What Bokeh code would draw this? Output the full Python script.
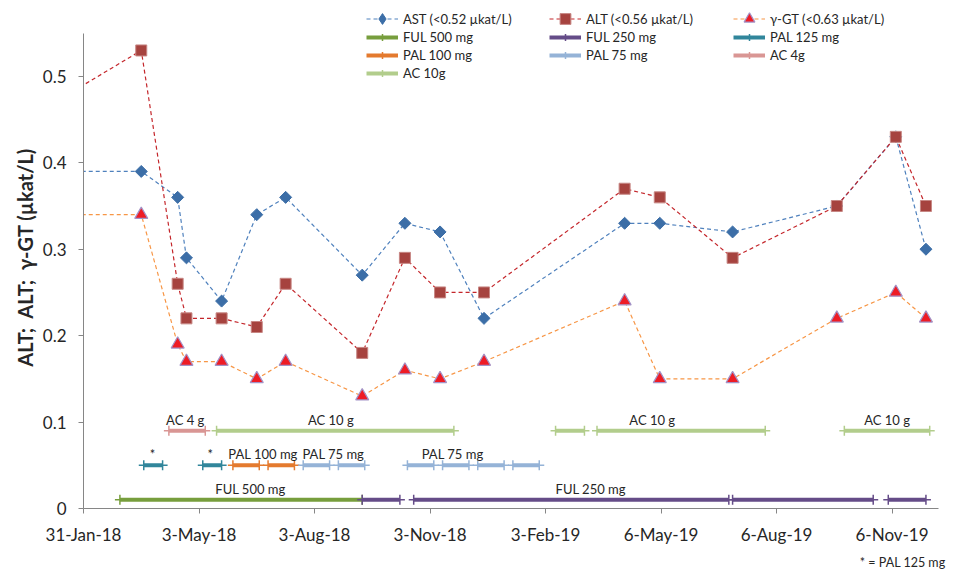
import pandas as pd
import numpy as np
from bokeh.plotting import figure
from bokeh.models import (FixedTicker, CustomJSTickFormatter, Legend, LegendItem,
                          Title, ColumnDataSource, Range1d)
from bokeh.core.properties import value
from bokeh.embed import file_html
from bokeh.resources import INLINE

# ---- liver enzyme measurements (µkat/L) ----
dates = ["2017-12-16", "2018-03-18", "2018-04-16", "2018-04-23", "2018-05-21",
         "2018-06-18", "2018-07-11", "2018-09-10", "2018-10-14", "2018-11-11",
         "2018-12-16", "2019-04-07", "2019-05-05", "2019-07-02", "2019-09-23",
         "2019-11-09", "2019-12-03"]
ast = [0.39, 0.39, 0.36, 0.29, 0.24, 0.34, 0.36, 0.27, 0.33, 0.32, 0.22,
       0.33, 0.33, 0.32, 0.35, 0.43, 0.30]
alt = [0.45, 0.53, 0.26, 0.22, 0.22, 0.21, 0.26, 0.18, 0.29, 0.25, 0.25,
       0.37, 0.36, 0.29, 0.35, 0.43, 0.35]
ggt = [0.34, 0.34, 0.19, 0.17, 0.17, 0.15, 0.17, 0.13, 0.16, 0.15, 0.17,
       0.24, 0.15, 0.15, 0.22, 0.25, 0.22]

# ---- treatment periods (start, end) ----
ful500 = [("2018-03-01", "2018-09-10")]
ful250 = [("2018-09-10", "2018-10-10"), ("2018-10-21", "2019-06-29"),
          ("2019-07-02", "2019-10-22"), ("2019-11-03", "2019-12-03")]
pal125 = [("2018-03-20", "2018-04-04"), ("2018-05-06", "2018-05-21")]
pal100 = [("2018-05-30", "2018-06-20"), ("2018-06-27", "2018-07-18")]
pal75 = [("2018-07-25", "2018-08-15"), ("2018-08-22", "2018-09-12"),
         ("2018-10-16", "2018-11-06"), ("2018-11-13", "2018-12-04"),
         ("2018-12-11", "2019-01-01"), ("2019-01-08", "2019-01-29")]
ac4 = [("2018-04-09", "2018-05-08")]
ac10 = [("2018-05-17", "2018-11-22"), ("2019-02-11", "2019-03-06"),
        ("2019-03-16", "2019-07-28"), ("2019-09-29", "2019-12-06")]

# text boxes above the treatment rows
ac_notes = [("AC 4 g", "2018-04-22"), ("AC 10 g", "2018-08-16"),
            ("AC 10 g", "2019-04-29"), ("AC 10 g", "2019-11-02")]
pal_notes = [("*", "2018-03-27"), ("*", "2018-05-12"), ("PAL 100 mg", "2018-06-23"),
             ("PAL 75 mg", "2018-08-18"), ("PAL 75 mg", "2018-11-21")]
ful_notes = [("FUL 500 mg", "2018-06-13"), ("FUL 250 mg", "2019-03-11")]

# row levels of the treatment bars on the value axis
AC_ROW, PAL_ROW, FUL_ROW = 0.09, 0.05, 0.01

# axis ticks
x_tick_dates = ["2018-01-31", "2018-05-03", "2018-08-03", "2018-11-03",
                "2019-02-03", "2019-05-06", "2019-08-06", "2019-11-06"]
x_tick_labels = ["31-Jan-18", "3-May-18", "3-Aug-18", "3-Nov-18",
                 "3-Feb-19", "6-May-19", "6-Aug-19", "6-Nov-19"]
y_ticks = [0, 0.1, 0.2, 0.3, 0.4, 0.5]
y_tick_labels = ["0", "0.1", "0.2", "0.3", "0.4", "0.5"]

FONT = "Lato"
TEXT = "#262626"
AXIS = "#868686"

x_start, x_end = pd.Timestamp("2018-01-31"), pd.Timestamp("2019-12-13")

p = figure(width=977, height=576, x_axis_type="datetime",
           x_range=Range1d(x_start, x_end), y_range=Range1d(0, 0.582),
           output_backend="svg", toolbar_location=None,
           min_border_left=83, min_border_right=39,
           min_border_top=5, min_border_bottom=68)
p.outline_line_color = None
p.xgrid.visible = False
p.ygrid.visible = False
p.background_fill_color = "white"
p.border_fill_color = "white"

# ---- axes ----
x_ms = [int(pd.Timestamp(d).value // 10**6) for d in x_tick_dates]
p.xaxis.ticker = FixedTicker(ticks=x_ms)
pick_label_js = """
let best = 0;
for (let i = 1; i < tick_vals.length; i++) {
  if (Math.abs(tick_vals[i] - tick) < Math.abs(tick_vals[best] - tick)) best = i;
}
return tick_text[best];
"""
p.xaxis.formatter = CustomJSTickFormatter(args=dict(tick_vals=x_ms, tick_text=x_tick_labels),
                                          code=pick_label_js)
p.yaxis.ticker = FixedTicker(ticks=y_ticks)
p.yaxis.formatter = CustomJSTickFormatter(args=dict(tick_vals=y_ticks, tick_text=y_tick_labels),
                                          code=pick_label_js)
p.yaxis.bounds = (0, 0.55)

for ax in (p.xaxis[0], p.yaxis[0]):
    ax.axis_line_color = AXIS
    ax.major_tick_line_color = AXIS
    ax.major_tick_out = 5
    ax.major_tick_in = 0
    ax.minor_tick_line_color = None
    ax.major_label_text_font = FONT
    ax.major_label_text_font_size = "17px"
    ax.major_label_text_color = TEXT
    ax.major_label_standoff = 12
p.xaxis.major_label_standoff = 10

p.yaxis.axis_label = "ALT;\u00a0 ALT;\u00a0 γ-GT (µkat/L)"
p.yaxis.axis_label_text_font = FONT
p.yaxis.axis_label_text_font_size = "20px"
p.yaxis.axis_label_text_font_style = "bold"
p.yaxis.axis_label_text_color = TEXT
p.yaxis.axis_label_standoff = 3

# ---- enzyme series ----
src = ColumnDataSource(dict(date=pd.to_datetime(dates), ast=ast, alt=alt, ggt=ggt))

AST_C, AST_M = "#4F81BD", "#3C6EA7"
ALT_C, ALT_M, ALT_E = "#C4262B", "#A6433F", "#C78784"
GGT_C, GGT_M, GGT_E = "#F79646", "#EE1C25", "#A393C7"

ast_line = p.line("date", "ast", source=src, line_color=AST_C, line_dash="4 3", line_width=1.2)
alt_line = p.line("date", "alt", source=src, line_color=ALT_C, line_dash="4 3", line_width=1.2)
ggt_line = p.line("date", "ggt", source=src, line_color=GGT_C, line_dash="4 3", line_width=1.2)

ast_pts = p.scatter("date", "ast", source=src, marker="square", angle=np.pi / 4,
                    size=8.5, fill_color=AST_M, line_color=AST_M)
alt_pts = p.scatter("date", "alt", source=src, marker="square", size=11,
                    fill_color=ALT_M, line_color=ALT_E, line_width=1)
ggt_pts = p.scatter("date", "ggt", source=src, marker="triangle", size=13,
                    fill_color=GGT_M, line_color=GGT_E, line_width=1.2)

# legend swatch for the AST diamond (its only point sits left of the visible range)
ast_key = p.scatter(x=pd.to_datetime(dates[:1]), y=ast[:1], marker="diamond", size=12,
                    fill_color=AST_M, line_color=AST_M)


# ---- treatment bars ----
def bar(periods, row, color):
    starts = pd.to_datetime([a for a, _ in periods])
    ends = pd.to_datetime([b for _, b in periods])
    seg = p.segment(x0=starts, y0=[row] * len(periods), x1=ends, y1=[row] * len(periods),
                    line_color=color, line_width=4)
    ticks = p.scatter(x=list(starts) + list(ends), y=[row] * (2 * len(periods)),
                      marker="cross", size=10, line_color=color, line_width=1.5)
    return [seg, ticks]


r_ful500 = bar(ful500, FUL_ROW, "#779E3D")
r_ful250 = bar(ful250, FUL_ROW, "#654C88")
r_pal125 = bar(pal125, PAL_ROW, "#31869B")
r_pal100 = bar(pal100, PAL_ROW, "#E47A2E")
r_pal75 = bar(pal75, PAL_ROW, "#95B3D7")
r_ac4 = bar(ac4, AC_ROW, "#D99694")
r_ac10 = bar(ac10, AC_ROW, "#B2CD8C")


def notes(items, row):
    p.text(x=pd.to_datetime([d for _, d in items]), y=[row] * len(items),
           text=[t for t, _ in items], text_align="center", text_baseline="bottom",
           y_offset=-3, text_font=value(FONT), text_font_size="13px", text_color=TEXT)


notes(ac_notes, AC_ROW)
notes(pal_notes, PAL_ROW)
notes(ful_notes, FUL_ROW)


# ---- legend: three columns; the enzyme row gets a taller swatch ----
def legend(entries, loc, h):
    lg = Legend(items=[LegendItem(label=lab, renderers=rs) for lab, rs in entries],
                location=loc, orientation="vertical", glyph_width=32, glyph_height=h,
                label_height=h, spacing=0, padding=0, margin=0, label_standoff=5,
                label_text_font=FONT, label_text_font_size="13px",
                label_text_color=TEXT, border_line_alpha=0, background_fill_alpha=0)
    p.add_layout(lg)


legend([("AST (<0.52 µkat/L)", [ast_line, ast_key])], (283, 476), 27)
legend([("ALT (<0.56 µkat/L)", [alt_line, alt_pts])], (466, 476), 27)
legend([("γ-GT (<0.63 µkat/L)", [ggt_line, ggt_pts])], (650, 476), 27)
legend([("FUL 500 mg", r_ful500), ("PAL 100 mg", r_pal100), ("AC 10g", r_ac10)], (283, 426), 18)
legend([("FUL 250 mg", r_ful250), ("PAL 75 mg", r_pal75)], (466, 444), 18)
legend([("PAL 125 mg", r_pal125), ("AC 4g", r_ac4)], (650, 444), 18)

# footnote
p.add_layout(Title(text="* = PAL 125 mg", align="right", text_font=FONT,
                   text_font_size="12.5px", text_font_style="normal",
                   text_color=TEXT, offset=-7), "below")

open("out.html", "w").write(file_html(p, INLINE))
